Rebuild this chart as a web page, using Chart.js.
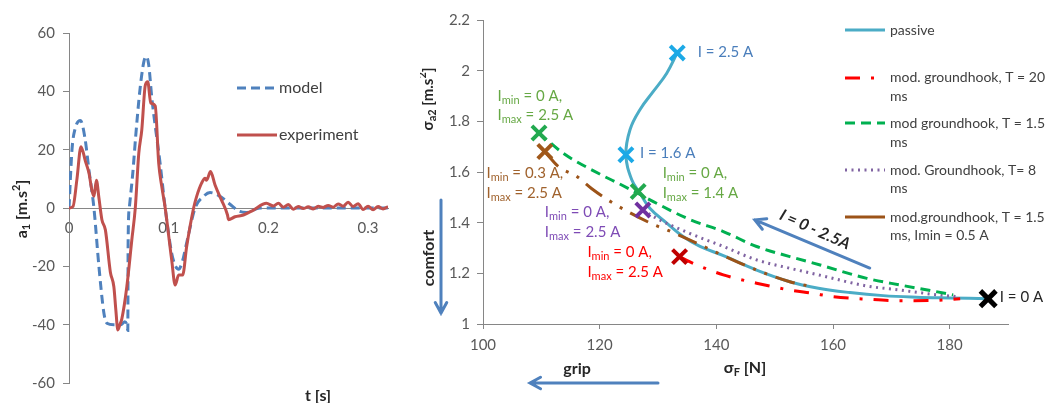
<!DOCTYPE html>
<html>
<head>
<meta charset="utf-8">
<script src="https://cdn.jsdelivr.net/npm/chart.js@4.4.1/dist/chart.umd.min.js"></script>
<style>
  html, body { margin: 0; padding: 0; background: #fff; width: 1049px; height: 403px; overflow: hidden; }
  .box { position: absolute; top: 0; height: 403px; }
</style>
</head>
<body>
<div class="box" style="left:0;width:420px"><canvas id="leftChart"></canvas></div>
<div class="box" style="left:420px;width:629px"><canvas id="rightChart"></canvas></div>
<script>
// left chart: time response a1(t)
const modelT = [0, 0.003, 0.006, 0.0115, 0.016, 0.020, 0.025, 0.030, 0.035, 0.038, 0.045, 0.052, 0.056, 0.058, 0.059, 0.0593, 0.0605, 0.064, 0.067, 0.071, 0.075, 0.0775, 0.080, 0.083, 0.0915, 0.0965, 0.103, 0.107, 0.110, 0.114, 0.118, 0.1265, 0.135, 0.1415, 0.1515, 0.1615, 0.170, 0.178, 0.1915, 0.25, 0.32];
const modelA = [0, 20, 27, 30, 24, 13, 0, -20, -36, -39.5, -40, -40, -39, -40, -42, -12, 0, 12, 25, 40, 50, 52, 49, 38, 15, 0, -15.5, -20, -21, -18, -12, 0, 4, 5.3, 4, 1.3, -1, -1.5, 0, 0, 0];

const expT = [0, 0.004, 0.008, 0.012, 0.0165, 0.020, 0.023, 0.025, 0.0275, 0.030, 0.033, 0.0365, 0.0415, 0.045, 0.047, 0.049, 0.051, 0.053, 0.058, 0.063, 0.0665, 0.070, 0.073, 0.0765, 0.079, 0.082, 0.0865, 0.090, 0.093, 0.0965, 0.103, 0.1065, 0.110, 0.114, 0.118, 0.125, 0.128, 0.133, 0.1365, 0.138, 0.142, 0.1465, 0.153, 0.159, 0.160, 0.1665, 0.175, 0.185, 0.198, 0.205, 0.21, 0.215, 0.22, 0.225, 0.23, 0.235, 0.24, 0.245, 0.25, 0.255, 0.26, 0.265, 0.27, 0.275, 0.28, 0.285, 0.29, 0.295, 0.30, 0.305, 0.31, 0.315, 0.32];
const expA = [0, 0.5, 10, 21, 16, 12, 6, 4, 9.5, 3.5, -4, -7.5, -22, -27, -35, -41.8, -40, -38, -27, -11, 0, 18.7, 26.7, 42, 43.3, 36, 35, 15.3, 7.5, 0, -17.8, -26.4, -23, -23, -13.3, 0, 3.9, 8.5, 10.2, 9.5, 12.5, 7.9, 2.7, -2.4, -4, -3, -2.4, -0.7, 1.6, 0.7, 1.6, 0.3, 1.2, -0.4, 0.5, -0.2, 0.4, -0.3, 0.6, 0.2, 0.9, 0.3, 1.4, 0.6, 2, 0.5, 1.5, -0.5, 0.6, -0.6, 0.5, -0.3, 0.5];

const leftTicksY = [-60, -40, -20, 0, 20, 40, 60];
const leftTicksX = [0, 0.1, 0.2, 0.3];

// right chart: sigma_a2 vs sigma_F
const passiveF = [186.6, 180, 174.3, 168.6, 162.9, 157.5, 152.6, 146.9, 141.2, 137.2, 134.3, 131.5, 128.6, 126.9, 125.5, 124.5, 125.2, 126.9, 129.2, 131.5, 133.3];
const passiveS = [1.100, 1.103, 1.106, 1.112, 1.124, 1.141, 1.167, 1.213, 1.270, 1.306, 1.345, 1.398, 1.457, 1.517, 1.569, 1.668, 1.767, 1.846, 1.918, 1.990, 2.070];

const t20F = [133.7, 135.4, 141.2, 146.9, 152.6, 156.5, 160, 165.8, 171.5, 177.2, 181.8];
const t20S = [1.266, 1.246, 1.194, 1.161, 1.134, 1.121, 1.108, 1.098, 1.092, 1.093, 1.10];

const t15F = [109.6, 113.7, 120, 123.4, 126.6, 129.2, 135.4, 141.2, 146.9, 152.6, 157.8, 165.8, 171.5, 177.2, 180.6];
const t15S = [1.754, 1.675, 1.592, 1.553, 1.515, 1.483, 1.413, 1.365, 1.306, 1.266, 1.233, 1.18, 1.154, 1.13, 1.115];

const t8F = [127.4, 129.7, 135.4, 141.2, 146.9, 152.6, 157.5, 165.8, 171.5, 177.2, 181.2];
const t8S = [1.45, 1.418, 1.358, 1.306, 1.253, 1.22, 1.194, 1.15, 1.134, 1.117, 1.108];

const t15iF = [110.6, 112.9, 116.1, 118.6, 121.4, 125.2, 129.4, 131.5, 135.4, 141.2, 146.9, 152.6, 156.9];
const t15iS = [1.681, 1.622, 1.582, 1.535, 1.49, 1.439, 1.391, 1.372, 1.332, 1.27, 1.213, 1.167, 1.145];

const markF = [186.6, 133.3, 124.5, 109.6, 126.6, 110.6, 127.4, 133.7];
const markS = [1.10, 2.07, 1.668, 1.754, 1.523, 1.681, 1.45, 1.266];

const rightTicksX = [100, 120, 140, 160, 180];
const rightTicksY = [1, 1.2, 1.4, 1.6, 1.8, 2, 2.2];

const FONT = 'Lato, "Open Sans", sans-serif';
const AXIS = '#868686';
const TICK = '#595959';

const pts = (xs, ys) => xs.map((x, i) => ({ x: x, y: ys[i] }));

function parts(str) {
  const out = [];
  const re = /([_^])\{([^}]*)\}/g;
  let last = 0, m;
  while ((m = re.exec(str))) {
    if (m.index > last) out.push({ t: str.slice(last, m.index) });
    out.push({ t: m[2], sub: m[1] === '_', sup: m[1] === '^' });
    last = re.lastIndex;
  }
  if (last < str.length) out.push({ t: str.slice(last) });
  return out;
}

function drawRich(ctx, str, x, y, o) {
  const ps = parts(str);
  const fontFor = p => [o.style, o.weight, Math.round((p.sub || p.sup) ? o.size * 0.7 : o.size) + 'px', FONT].filter(Boolean).join(' ');
  let total = 0;
  ps.forEach(p => { ctx.font = fontFor(p); p.w = ctx.measureText(p.t).width; total += p.w; });
  let cx = o.align === 'center' ? x - total / 2 : x;
  ctx.fillStyle = o.color;
  ctx.textBaseline = 'middle';
  ctx.textAlign = 'left';
  ps.forEach(p => {
    ctx.font = fontFor(p);
    ctx.fillText(p.t, cx, y + (p.sub ? o.size * 0.3 : p.sup ? -o.size * 0.35 : 0));
    cx += p.w;
  });
}

function drawRotated(ctx, str, x, y, angle, o) {
  ctx.save();
  ctx.translate(x, y);
  ctx.rotate(angle);
  drawRich(ctx, str, 0, 0, Object.assign({ align: 'center' }, o));
  ctx.restore();
}

function arrow(ctx, x1, y1, x2, y2, color, w) {
  const a = Math.atan2(y2 - y1, x2 - x1), h = 12;
  ctx.save();
  ctx.strokeStyle = color;
  ctx.lineWidth = w;
  ctx.lineCap = 'round';
  ctx.beginPath();
  ctx.moveTo(x1, y1);
  ctx.lineTo(x2, y2);
  ctx.moveTo(x2 - h * Math.cos(a - 0.5), y2 - h * Math.sin(a - 0.5));
  ctx.lineTo(x2, y2);
  ctx.lineTo(x2 - h * Math.cos(a + 0.5), y2 - h * Math.sin(a + 0.5));
  ctx.stroke();
  ctx.restore();
}

function legendRow(ctx, x, y, style) {
  ctx.save();
  ctx.strokeStyle = style.color;
  ctx.lineWidth = 3;
  ctx.setLineDash(style.dash || []);
  ctx.beginPath();
  ctx.moveTo(x, y);
  ctx.lineTo(x + 40, y);
  ctx.stroke();
  ctx.restore();
}

const keepTicks = list => scale => {
  scale.ticks = list.map(v => ({ value: v }));
};

// ---------- left chart ----------
const leftExtras = {
  id: 'leftExtras',
  afterDraw(chart) {
    const ctx = chart.ctx;
    legendRow(ctx, 237, 88, { color: '#4f81bd', dash: [9, 5] });
    legendRow(ctx, 237, 135, { color: '#c0504d' });
    drawRich(ctx, 'model', 279, 88, { size: 16, color: '#404040' });
    drawRich(ctx, 'experiment', 279, 135, { size: 16, color: '#404040' });
    drawRotated(ctx, 'a_{1} [m.s^{2}]', 22, 209, -Math.PI / 2, { size: 16, weight: 'bold', color: '#262626' });
    drawRich(ctx, 't [s]', 318, 396, { size: 16, weight: 'bold', color: '#262626', align: 'center' });
  }
};

new Chart(document.getElementById('leftChart'), {
  type: 'scatter',
  data: {
    datasets: [
      { label: 'experiment', data: pts(expT, expA), showLine: true, borderColor: '#c0504d', borderWidth: 3, pointRadius: 0, cubicInterpolationMode: 'monotone' },
      { label: 'model', data: pts(modelT, modelA), showLine: true, borderColor: '#4f81bd', borderWidth: 3, borderDash: [9, 5], pointRadius: 0, cubicInterpolationMode: 'monotone' }
    ]
  },
  options: {
    responsive: true,
    maintainAspectRatio: false,
    animation: false,
    events: [],
    layout: { padding: { left: 0, top: 33, right: 32, bottom: 20 } },
    plugins: { legend: { display: false }, tooltip: { enabled: false } },
    scales: {
      x: {
        type: 'linear', min: 0, max: 0.32, position: { y: 0 },
        afterBuildTicks: keepTicks(leftTicksX),
        ticks: { padding: 11, color: TICK, font: { family: FONT, size: 15 }, maxRotation: 0, callback: v => String(Math.round(v * 10) / 10) },
        grid: { display: false, drawTicks: false },
        border: { color: AXIS, width: 1 }
      },
      y: {
        min: -60, max: 60,
        afterBuildTicks: keepTicks(leftTicksY),
        afterFit: s => { s.width = 69; },
        ticks: { padding: 8, color: TICK, font: { family: FONT, size: 15 } },
        grid: { drawOnChartArea: false, tickLength: 6, color: AXIS },
        border: { color: AXIS, width: 1 }
      }
    }
  },
  plugins: [leftExtras]
});

// ---------- right chart ----------
const styles = {
  passive: { color: '#4bacc6' },
  t20: { color: '#ff0000', dash: [15, 11, 3, 11] },
  t15: { color: '#00b050', dash: [10, 6] },
  t8: { color: '#8064a2', dash: [2, 4.5] },
  t15i: { color: '#9c5318', dash: [20, 9, 3, 9, 3, 9] }
};

const rightExtras = {
  id: 'rightExtras',
  afterDraw(chart) {
    const ctx = chart.ctx;
    const X = v => chart.scales.x.getPixelForValue(v);
    const Y = v => chart.scales.y.getPixelForValue(v);
    const f = { size: 15 };
    const notes = [
      ['I = 2.5 A', 136.8, 2.075, '#4a7ebb'],
      ['I = 1.6 A', 126.9, 1.676, '#4a7ebb'],
      ['I_{min} = 0 A,', 102.5, 1.901, '#66a844'],
      ['I_{max} = 2.5 A', 102.5, 1.826, '#66a844'],
      ['I_{min} = 0.3 A,', 100.6, 1.597, '#a0622d'],
      ['I_{max} = 2.5 A', 100.6, 1.518, '#a0622d'],
      ['I_{min} = 0 A,', 130.8, 1.597, '#66a844'],
      ['I_{max} = 1.4 A', 130.8, 1.518, '#66a844'],
      ['I_{min} = 0 A,', 110.6, 1.443, '#7e4bb5'],
      ['I_{max} = 2.5 A', 110.6, 1.364, '#7e4bb5'],
      ['I_{min} = 0 A,', 117.9, 1.285, '#ff0000'],
      ['I_{max} = 2.5 A', 117.9, 1.206, '#ff0000'],
      ['I = 0 A', 188.6, 1.107, '#262626']
    ];
    notes.forEach(n => drawRich(ctx, n[0], X(n[1]), Y(n[2]), Object.assign({ color: n[3] }, f)));

    // current sweep arrow and its label
    arrow(ctx, X(166.3), Y(1.221), X(146.6), Y(1.411), '#4f81bd', 3);
    drawRotated(ctx, 'I = 0 - 2.5A', X(156.9), Y(1.372), 0.42, { size: 16, weight: 'bold', style: 'italic', color: '#262626' });

    // axis titles and direction hints
    drawRotated(ctx, 'σ_{a2} [m.s^{2}]', 8, 99, -Math.PI / 2, { size: 15, weight: 'bold', color: '#262626' });
    drawRich(ctx, 'σ_{F} [N]', 325, 368, { size: 16, weight: 'bold', color: '#262626', align: 'center' });
    drawRich(ctx, 'grip', 157, 369, { size: 16, weight: 'bold', color: '#262626', align: 'center' });
    arrow(ctx, 238, 383, 110, 383, '#4f81bd', 3);
    drawRotated(ctx, 'comfort', 9, 258, -Math.PI / 2, { size: 16, weight: 'bold', color: '#262626' });
    arrow(ctx, 21, 200, 21, 313, '#4f81bd', 3);

    // legend
    const lx = 425, tx = 470, lf = { size: 14, color: '#404040' };
    legendRow(ctx, lx, 30, styles.passive);
    drawRich(ctx, 'passive', tx, 30, lf);
    legendRow(ctx, lx, 78, styles.t20);
    drawRich(ctx, 'mod. groundhook, T = 20', tx, 77, lf);
    drawRich(ctx, 'ms', tx, 96, lf);
    legendRow(ctx, lx, 123, styles.t15);
    drawRich(ctx, 'mod groundhook, T = 1.5', tx, 123, lf);
    drawRich(ctx, 'ms', tx, 142, lf);
    legendRow(ctx, lx, 170, styles.t8);
    drawRich(ctx, 'mod. Groundhook, T= 8', tx, 170, lf);
    drawRich(ctx, 'ms', tx, 188, lf);
    legendRow(ctx, lx, 217, { color: styles.t15i.color });
    drawRich(ctx, 'mod.groundhook, T = 1.5', tx, 217, lf);
    drawRich(ctx, 'ms, Imin = 0.5 A', tx, 235, lf);
  }
};

// curves that run left to right use monotone smoothing; passive loops back so it uses tension
const line = (label, xs, ys, st, mono) => ({
  label: label, data: pts(xs, ys), showLine: true, borderColor: st.color, borderWidth: 3,
  borderDash: st.dash || [], pointRadius: 0,
  tension: 0.4, cubicInterpolationMode: mono ? 'monotone' : 'default'
});

new Chart(document.getElementById('rightChart'), {
  type: 'scatter',
  data: {
    datasets: [
      {
        label: 'markers', data: pts(markF, markS), showLine: false, pointStyle: 'crossRot',
        pointRadius: [11, 10, 10, 10, 10, 10, 10, 10],
        pointBorderWidth: [5, 4, 4, 4, 4, 4, 4, 4],
        pointBorderColor: ['#000000', '#1ca9e6', '#1ca9e6', '#22a94f', '#22a94f', '#a0581a', '#7030a0', '#c00000'],
        pointBackgroundColor: 'transparent'
      },
      line('mod.groundhook, T = 1.5 ms, Imin = 0.5 A', t15iF, t15iS, styles.t15i, true),
      line('mod. groundhook, T = 20 ms', t20F, t20S, styles.t20, true),
      line('mod groundhook, T = 1.5 ms', t15F, t15S, styles.t15, true),
      line('mod. Groundhook, T= 8 ms', t8F, t8S, styles.t8, true),
      line('passive', passiveF, passiveS, styles.passive, false)
    ]
  },
  options: {
    responsive: true,
    maintainAspectRatio: false,
    animation: false,
    events: [],
    layout: { padding: { left: 0, top: 20, right: 41, bottom: 49 } },
    plugins: { legend: { display: false }, tooltip: { enabled: false } },
    scales: {
      x: {
        type: 'linear', min: 100, max: 190, position: 'bottom',
        afterBuildTicks: keepTicks(rightTicksX),
        afterFit: s => { s.height = 30; },
        ticks: { padding: 7, color: TICK, font: { family: FONT, size: 15 }, maxRotation: 0 },
        grid: { drawOnChartArea: false, tickLength: 5, color: AXIS },
        border: { color: AXIS, width: 1 }
      },
      y: {
        min: 1, max: 2.2,
        afterBuildTicks: keepTicks(rightTicksY),
        afterFit: s => { s.width = 63; },
        ticks: { padding: 7, color: TICK, font: { family: FONT, size: 15 }, callback: v => String(Math.round(v * 10) / 10) },
        grid: { drawOnChartArea: false, tickLength: 6, color: AXIS },
        border: { color: AXIS, width: 1 }
      }
    }
  },
  plugins: [rightExtras]
});
</script>
</body>
</html>
